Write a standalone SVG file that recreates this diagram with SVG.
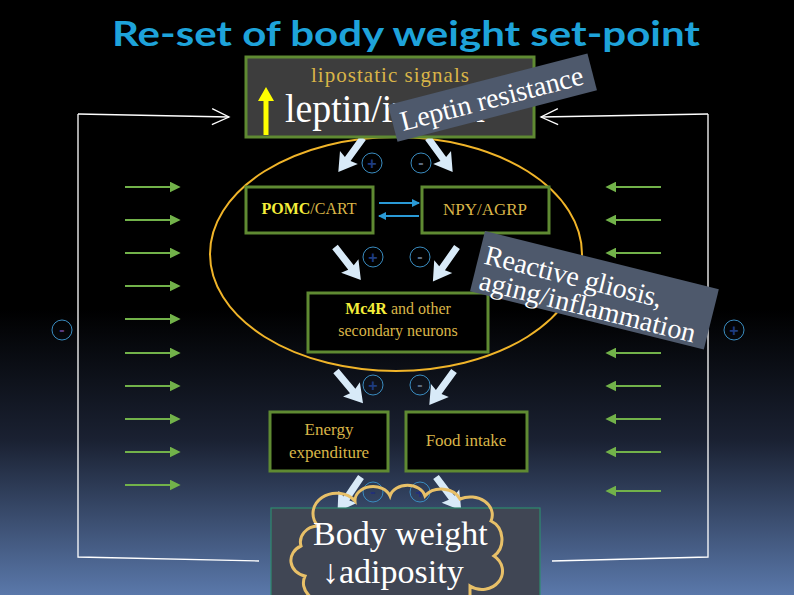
<svg xmlns="http://www.w3.org/2000/svg" width="794" height="595" viewBox="0 0 794 595">
<defs>
<linearGradient id="bg" x1="0" y1="0" x2="0" y2="1">
<stop offset="0" stop-color="#000000"/>
<stop offset="0.52" stop-color="#000000"/>
<stop offset="0.74" stop-color="#1a2132"/>
<stop offset="1" stop-color="#5a78aa"/>
</linearGradient>
<path id="barrow" d="M0,-3.5 L26,-3.5 L24,-11 L42,0 L24,11 L26,3.5 L0,3.5 Z" fill="#d8eaf8"/>
<marker id="gh" viewBox="0 0 8 8" refX="1" refY="4" markerWidth="5" markerHeight="5" orient="auto" markerUnits="strokeWidth">
<path d="M0,0 L8,4 L0,8 Z" fill="#72b24a"/>
</marker>
<marker id="open" viewBox="0 0 20 20" refX="18" refY="10" markerWidth="20" markerHeight="20" orient="auto" markerUnits="userSpaceOnUse">
<path d="M1,2 L18,10 L1,18" fill="none" stroke="#ffffff" stroke-width="1.3"/>
</marker>
<marker id="bh" viewBox="0 0 8 8" refX="7" refY="4" markerWidth="4" markerHeight="4" orient="auto" markerUnits="strokeWidth">
<path d="M0,0 L8,4 L0,8 Z" fill="#2a9ad6"/>
</marker>
</defs>
<style>
.box{fill:#000;stroke:#5f8a32;stroke-width:3}
.gold{fill:#d9b548;font-family:"Liberation Serif",serif}
.yel{fill:#f5ee3a;font-weight:bold}
.wh{fill:#ffffff;font-family:"Liberation Serif",serif}
.circ{fill:none;stroke:#3a8cc0;stroke-width:1}
.sign{font-family:"Liberation Sans",sans-serif;font-size:16px;font-weight:bold;text-anchor:middle}
.green{stroke:#72b24a;stroke-width:2.2;fill:none}
.fb{stroke:#ffffff;stroke-width:1.3;fill:none}
</style>
<rect width="794" height="595" fill="url(#bg)"/>
<text x="406" y="46" text-anchor="middle" font-family="Lato, 'Open Sans', sans-serif" font-weight="bold" font-size="35" fill="#1ea3da" textLength="588" lengthAdjust="spacingAndGlyphs">Re-set of body weight set-point</text>

<g id="connectors">
<path class="fb" d="M78,114 L229,117" marker-end="url(#open)"/>
<path class="fb" d="M78,114 L78,557 L259,561"/>
<path class="fb" d="M708,114 L541,117" marker-end="url(#open)"/>
<path class="fb" d="M708,114 L708,557 L552,561"/>
<g class="green">
<line x1="125" y1="187" x2="171" y2="187" marker-end="url(#gh)"/>
<line x1="125" y1="220" x2="171" y2="220" marker-end="url(#gh)"/>
<line x1="125" y1="253" x2="171" y2="253" marker-end="url(#gh)"/>
<line x1="125" y1="286" x2="171" y2="286" marker-end="url(#gh)"/>
<line x1="125" y1="319" x2="171" y2="319" marker-end="url(#gh)"/>
<line x1="125" y1="353" x2="171" y2="353" marker-end="url(#gh)"/>
<line x1="125" y1="386" x2="171" y2="386" marker-end="url(#gh)"/>
<line x1="125" y1="419" x2="171" y2="419" marker-end="url(#gh)"/>
<line x1="125" y1="452" x2="171" y2="452" marker-end="url(#gh)"/>
<line x1="125" y1="485" x2="171" y2="485" marker-end="url(#gh)"/>
<line x1="661" y1="187" x2="615" y2="187" marker-end="url(#gh)"/>
<line x1="661" y1="220" x2="615" y2="220" marker-end="url(#gh)"/>
<line x1="661" y1="253" x2="615" y2="253" marker-end="url(#gh)"/>
<line x1="661" y1="286" x2="615" y2="286" marker-end="url(#gh)"/>
<line x1="661" y1="319" x2="615" y2="319" marker-end="url(#gh)"/>
<line x1="661" y1="353" x2="615" y2="353" marker-end="url(#gh)"/>
<line x1="661" y1="386" x2="615" y2="386" marker-end="url(#gh)"/>
<line x1="661" y1="419" x2="615" y2="419" marker-end="url(#gh)"/>
<line x1="661" y1="452" x2="615" y2="452" marker-end="url(#gh)"/>
<line x1="661" y1="491" x2="615" y2="491" marker-end="url(#gh)"/>
</g>
<ellipse cx="396" cy="254" rx="186" ry="117" fill="none" stroke="#f0b429" stroke-width="2"/>
<line x1="379" y1="203" x2="419" y2="203" stroke="#2a9ad6" stroke-width="2" marker-end="url(#bh)"/>
<line x1="419" y1="216" x2="379" y2="216" stroke="#2a9ad6" stroke-width="2" marker-end="url(#bh)"/>
<use href="#barrow" transform="translate(363,138) rotate(126)"/>
<use href="#barrow" transform="translate(428,138) rotate(54)"/>
<use href="#barrow" transform="translate(335,247) rotate(52)"/>
<use href="#barrow" transform="translate(457,247) rotate(125)"/>
<use href="#barrow" transform="translate(336,371) rotate(50)"/>
<use href="#barrow" transform="translate(454,371) rotate(126)"/>
<use href="#barrow" transform="translate(361,477) rotate(124)"/>
<use href="#barrow" transform="translate(436,477) rotate(53)"/>
</g>

<g id="signs">
<circle class="circ" cx="372" cy="163" r="10"/><text class="sign" x="372" y="169" fill="#1e3c80">+</text>
<circle class="circ" cx="421" cy="163" r="10"/><text class="sign" x="421" y="168" fill="#5a6a80">-</text>
<circle class="circ" cx="373" cy="257" r="10"/><text class="sign" x="373" y="263" fill="#1e3c80">+</text>
<circle class="circ" cx="420" cy="257" r="10"/><text class="sign" x="420" y="262" fill="#5a6a80">-</text>
<circle class="circ" cx="373" cy="385" r="10"/><text class="sign" x="373" y="391" fill="#1e3c80">+</text>
<circle class="circ" cx="420" cy="385" r="10"/><text class="sign" x="420" y="390" fill="#5a6a80">-</text>
<circle class="circ" cx="373" cy="492" r="10" stroke="#22307a"/><text class="sign" x="373" y="497" fill="#22307a">-</text>
<circle class="circ" cx="420" cy="492" r="10" stroke="#22307a"/><text class="sign" x="420" y="498" fill="#22307a">+</text>
<circle class="circ" cx="62" cy="330" r="10"/><text class="sign" x="62" y="335" fill="#5a3a80">-</text>
<circle class="circ" cx="734" cy="330" r="10"/><text class="sign" x="734" y="336" fill="#1e3c80">+</text>
</g>

<g id="leptin">
<rect x="246" y="57" width="288" height="80" fill="#3d3d3d" stroke="#5f8a32" stroke-width="3"/>
<text class="gold" x="390" y="82" font-size="21" text-anchor="middle" textLength="158">lipostatic signals</text>
<path d="M263.5,135 L263.5,101 L258,101 L266,87 L274,101 L268.5,101 L268.5,135 Z" fill="#ffff00"/>
<text class="wh" x="285" y="122" font-size="41" textLength="200" lengthAdjust="spacingAndGlyphs">leptin/insulin</text>
</g>

<g id="pomc">
<rect class="box" x="246" y="187" width="127" height="46"/>
<text class="gold" x="309" y="214" font-size="16" text-anchor="middle"><tspan class="yel">POMC</tspan>/CART</text>
</g>
<g id="npy">
<rect class="box" x="422" y="187" width="127" height="46"/>
<text class="gold" x="485" y="215" font-size="17" text-anchor="middle">NPY/AGRP</text>
</g>
<g id="mc4r">
<rect class="box" x="308" y="293" width="180" height="59"/>
<text class="gold" x="398" y="314" font-size="16" text-anchor="middle"><tspan class="yel">Mc4R</tspan> and other</text>
<text class="gold" x="398" y="336" font-size="16" text-anchor="middle">secondary neurons</text>
</g>
<g id="energy">
<rect class="box" x="270" y="412" width="118" height="59" fill="#141821"/>
<text class="gold" x="329" y="435" font-size="17" text-anchor="middle">Energy</text>
<text class="gold" x="329" y="458" font-size="17" text-anchor="middle">expenditure</text>
</g>
<g id="food">
<rect class="box" x="406" y="412" width="121" height="59" fill="#141821"/>
<text class="gold" x="466" y="446" font-size="17" text-anchor="middle">Food intake</text>
</g>

<g id="body">
<rect x="271" y="508" width="269" height="95" fill="#404654" stroke="#2e8a6e" stroke-width="1.2"/>
<path d="M318,526 A22,19 0 0 1 355,501 A18,14 0 0 1 390,496 A18,14 0 0 1 425,496 A20,16 0 0 1 460,499 A22,18 0 0 1 491,521 A18,20 0 0 1 494,556 A20,18 0 0 1 470,586 L470,600 L330,600 A20,18 0 0 1 305,576 A18,16 0 0 1 301,546 A18,16 0 0 1 318,526 Z" fill="none" stroke="#e8c068" stroke-width="3"/>
<text class="wh" x="313" y="545" font-size="34">Body weight</text>
<text class="wh" x="322" y="583" font-size="34">↓adiposity</text>
</g>

<g id="leptin-resistance" transform="translate(388,105) rotate(-14.5)">
<rect x="0" y="0" width="206" height="38" fill="#4e596c"/>
<text class="wh" x="8" y="29" font-size="28" textLength="188">Leptin resistance</text>
</g>

<g id="gliosis" transform="translate(485,231) rotate(14)">
<rect x="0" y="0" width="241" height="62" fill="#4e596c"/>
<text class="wh" x="6" y="32" font-size="28" textLength="182">Reactive gliosis,</text>
<text class="wh" x="7" y="58" font-size="28" textLength="222">aging/inflammation</text>
</g>
</svg>
